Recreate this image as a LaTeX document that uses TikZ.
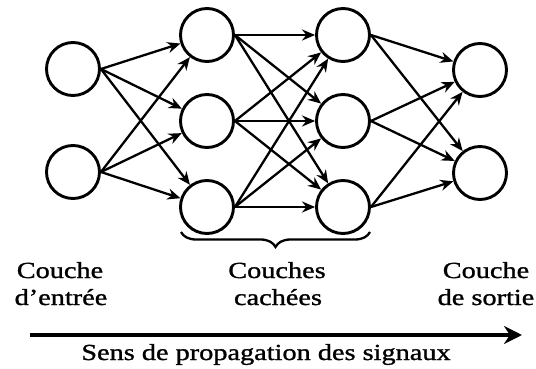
\documentclass[tikz,border=0pt]{standalone}
\usepackage{fontspec}
\newfontfamily\lblfont[FakeStretch=1.23,FakeBold=1.2]{Liberation Serif}
\usetikzlibrary{arrows.meta,decorations.pathreplacing}
\begin{document}
\begin{tikzpicture}[x=1pt,y=-1pt,
  neuron/.style={circle,draw,line width=2.9pt,minimum size=53pt,inner sep=0pt},
  link/.style={line width=2.3pt,-{Stealth[length=13pt,width=11pt]}},
  lbl/.style={font=\lblfont\fontsize{23}{27}\selectfont,anchor=base,inner sep=0pt}]
\useasboundingbox (0,0) rectangle (536,369);
% neurons
\node[neuron] (i1) at (73,69) {};
\node[neuron] (i2) at (73,172) {};
\node[neuron] (a1) at (207,35) {};
\node[neuron] (a2) at (207,121) {};
\node[neuron] (a3) at (207,207) {};
\node[neuron] (b1) at (343,35) {};
\node[neuron] (b2) at (343,121) {};
\node[neuron] (b3) at (343,207) {};
\node[neuron] (o1) at (480,70) {};
\node[neuron] (o2) at (480,173) {};
% links
\foreach \s in {i1,i2}{\foreach \t in {a1,a2,a3}{\draw[link] (\s.east) -- (\t);}}
\foreach \s in {a1,a2,a3}{\foreach \t in {b1,b2,b3}{\draw[link] (\s.east) -- (\t);}}
\foreach \s in {b1,b2,b3}{\foreach \t in {o1,o2}{\draw[link] (\s.east) -- (\t);}}
% brace
\coordinate (br) at (370,232);
\coordinate (bl) at (181,232);
\draw[line width=2.3pt,decorate,decoration={brace,amplitude=15pt}] (br) -- (bl);
% labels
\node[lbl] (t1) at (60,278) {Couche};
\node[lbl] (t2) at (61,305) {d’entrée};
\node[lbl] (t3) at (277,278) {Couches};
\node[lbl] (t4) at (278,305) {cachées};
\node[lbl] (t5) at (486,278) {Couche};
\node[lbl] (t6) at (486,305) {de sortie};
% main arrow
\coordinate (as) at (30,335);
\coordinate (ae) at (522,335);
\draw[line width=3.2pt,-{Stealth[length=18pt,width=18pt]}] (as) -- (ae);
\node[lbl] (t7) at (266,360) {Sens de propagation des signaux};
\end{tikzpicture}
\end{document}
